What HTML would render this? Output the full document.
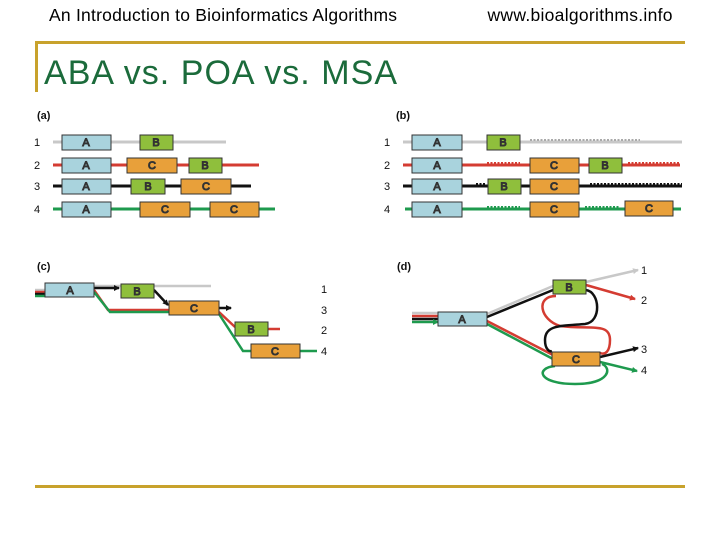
<!DOCTYPE html>
<html><head><meta charset="utf-8"><style>
html,body{margin:0;padding:0;background:#fff;}
svg{display:block;font-family:"Liberation Sans",sans-serif;}
</style></head><body>
<svg width="720" height="540" viewBox="0 0 720 540" xmlns="http://www.w3.org/2000/svg">
<defs>
<marker id="ak" markerWidth="6" markerHeight="6" refX="5" refY="3" orient="auto" markerUnits="userSpaceOnUse"><path d="M0,0 L6,3 L0,6 z" fill="#111"/></marker>
<marker id="ar" markerWidth="6" markerHeight="6" refX="5" refY="3" orient="auto" markerUnits="userSpaceOnUse"><path d="M0,0 L6,3 L0,6 z" fill="#d43c32"/></marker>
<marker id="ag" markerWidth="6" markerHeight="6" refX="5" refY="3" orient="auto" markerUnits="userSpaceOnUse"><path d="M0,0 L6,3 L0,6 z" fill="#1e9a4e"/></marker>
<marker id="ay" markerWidth="6" markerHeight="6" refX="5" refY="3" orient="auto" markerUnits="userSpaceOnUse"><path d="M0,0 L6,3 L0,6 z" fill="#c8c8c8"/></marker>
</defs>
<text x="223" y="21" font-size="17.5" text-anchor="middle" fill="#000" textLength="348">An Introduction to Bioinformatics Algorithms</text>
<text x="580" y="21" font-size="17.5" text-anchor="middle" fill="#000" textLength="185">www.bioalgorithms.info</text>
<rect x="35" y="41" width="650" height="3" fill="#c8a22c"/>
<rect x="35" y="41" width="3" height="51" fill="#c8a22c"/>
<rect x="35" y="485" width="650" height="3" fill="#c8a22c"/>
<text x="44" y="84" font-size="34" fill="#1b6b3b" textLength="353">ABA vs. POA vs. MSA</text>

<g font-size="11" fill="#111">
<text x="37" y="119" font-weight="bold">(a)</text>
<text x="396" y="119" font-weight="bold">(b)</text>
<text x="37" y="270" font-weight="bold">(c)</text>
<text x="397" y="270" font-weight="bold">(d)</text>
<text x="34" y="146">1</text><text x="34" y="169">2</text><text x="34" y="190">3</text><text x="34" y="213">4</text>
<text x="384" y="146">1</text><text x="384" y="169">2</text><text x="384" y="190">3</text><text x="384" y="213">4</text>
<text x="321" y="293">1</text><text x="321" y="314">3</text><text x="321" y="334">2</text><text x="321" y="355">4</text>
<text x="641" y="274">1</text><text x="641" y="304">2</text><text x="641" y="353">3</text><text x="641" y="374">4</text>
</g>

<g stroke-width="3">
<line x1="53" y1="142" x2="226" y2="142" stroke="#c8c8c8"/>
<line x1="53" y1="165" x2="259" y2="165" stroke="#d43c32"/>
<line x1="53" y1="186" x2="251" y2="186" stroke="#111"/>
<line x1="53" y1="209" x2="275" y2="209" stroke="#1e9a4e"/>
<line x1="403" y1="142" x2="682" y2="142" stroke="#c8c8c8"/>
<line x1="403" y1="165" x2="680" y2="165" stroke="#d43c32"/>
<line x1="403" y1="186" x2="682" y2="186" stroke="#111"/>
<line x1="405" y1="209" x2="681" y2="209" stroke="#1e9a4e"/>
</g>
<g stroke-width="2" stroke-dasharray="2,1.5">
<line x1="530" y1="140" x2="640" y2="140" stroke="#aaa"/>
<line x1="487" y1="163" x2="520" y2="163" stroke="#d43c32"/>
<line x1="628" y1="163" x2="680" y2="163" stroke="#d43c32"/>
<line x1="476" y1="184" x2="486" y2="184" stroke="#111"/>
<line x1="590" y1="184" x2="682" y2="184" stroke="#111"/>
<line x1="487" y1="207" x2="520" y2="207" stroke="#1e9a4e"/>
<line x1="585" y1="207" x2="620" y2="207" stroke="#1e9a4e"/>
</g>

<g fill="none" stroke-width="2.5">
<line x1="94" y1="286" x2="211" y2="286" stroke="#c8c8c8"/>
<line x1="35" y1="290" x2="45" y2="290" stroke="#c8c8c8"/>
<line x1="35" y1="292" x2="45" y2="292" stroke="#d43c32"/>
<line x1="35" y1="294" x2="45" y2="294" stroke="#111"/>
<line x1="35" y1="296" x2="45" y2="296" stroke="#1e9a4e"/>
<polyline points="94,290 108,310 169,310" stroke="#d43c32"/>
<polyline points="94,292 110,312 169,312" stroke="#1e9a4e"/>
<line x1="94" y1="288" x2="119" y2="288" stroke="#111" marker-end="url(#ak)"/>
<line x1="154" y1="290" x2="168" y2="305" stroke="#111" marker-end="url(#ak)"/>
<line x1="219" y1="308" x2="231" y2="308" stroke="#111" marker-end="url(#ak)"/>
<polyline points="219,312 235,327" stroke="#d43c32"/>
<polyline points="219,314 243,351 251,351" stroke="#1e9a4e"/>
<line x1="268" y1="329" x2="280" y2="329" stroke="#d43c32"/>
<line x1="300" y1="351" x2="317" y2="351" stroke="#1e9a4e"/>
</g>

<g fill="none" stroke-width="2.5">
<line x1="412" y1="313" x2="438" y2="313" stroke="#c8c8c8"/>
<line x1="412" y1="316" x2="438" y2="316" stroke="#d43c32"/>
<line x1="412" y1="319" x2="438" y2="319" stroke="#111"/>
<line x1="412" y1="322" x2="438" y2="322" stroke="#1e9a4e" marker-end="url(#ag)"/>
<line x1="487" y1="314" x2="553" y2="286" stroke="#c8c8c8"/>
<line x1="487" y1="317" x2="553" y2="290" stroke="#111"/>
<line x1="487" y1="321" x2="553" y2="355" stroke="#d43c32"/>
<line x1="487" y1="324" x2="553" y2="359" stroke="#1e9a4e"/>
<line x1="586" y1="282" x2="638" y2="270" stroke="#c8c8c8" marker-end="url(#ay)"/>
<line x1="586" y1="285" x2="635" y2="299" stroke="#d43c32" marker-end="url(#ar)"/>
<path d="M556,296 C535,296 540,320 560,326 C590,330 610,322 610,340 C610,352 605,355 600,353" stroke="#d43c32"/>
<path d="M586,290 C600,292 602,322 585,324 C560,326 545,325 545,340 C545,350 550,352 552,351" stroke="#111"/>
<line x1="600" y1="357" x2="638" y2="348" stroke="#111" marker-end="url(#ak)"/>
<line x1="600" y1="362" x2="637" y2="371" stroke="#1e9a4e" marker-end="url(#ag)"/>
<path d="M555,366 C535,368 538,384 575,384 C610,384 612,368 602,364" stroke="#1e9a4e"/>
</g>

<g stroke="#333" stroke-width="1" font-size="11" text-anchor="middle" fill="#222">
<rect x="62" y="135" width="49" height="15" fill="#a9d3dd"/><text x="86" y="146">A</text>
<rect x="140" y="135" width="33" height="15" fill="#8fbf3c"/><text x="156" y="146">B</text>
<rect x="62" y="158" width="49" height="15" fill="#a9d3dd"/><text x="86" y="169">A</text>
<rect x="127" y="158" width="50" height="15" fill="#e8a03a"/><text x="152" y="169">C</text>
<rect x="189" y="158" width="33" height="15" fill="#8fbf3c"/><text x="205" y="169">B</text>
<rect x="62" y="179" width="49" height="15" fill="#a9d3dd"/><text x="86" y="190">A</text>
<rect x="131" y="179" width="34" height="15" fill="#8fbf3c"/><text x="148" y="190">B</text>
<rect x="181" y="179" width="50" height="15" fill="#e8a03a"/><text x="206" y="190">C</text>
<rect x="62" y="202" width="49" height="15" fill="#a9d3dd"/><text x="86" y="213">A</text>
<rect x="140" y="202" width="50" height="15" fill="#e8a03a"/><text x="165" y="213">C</text>
<rect x="210" y="202" width="49" height="15" fill="#e8a03a"/><text x="234" y="213">C</text>
<rect x="412" y="135" width="50" height="15" fill="#a9d3dd"/><text x="437" y="146">A</text>
<rect x="487" y="135" width="33" height="15" fill="#8fbf3c"/><text x="503" y="146">B</text>
<rect x="412" y="158" width="50" height="15" fill="#a9d3dd"/><text x="437" y="169">A</text>
<rect x="530" y="158" width="49" height="15" fill="#e8a03a"/><text x="554" y="169">C</text>
<rect x="589" y="158" width="33" height="15" fill="#8fbf3c"/><text x="605" y="169">B</text>
<rect x="412" y="179" width="50" height="15" fill="#a9d3dd"/><text x="437" y="190">A</text>
<rect x="488" y="179" width="33" height="15" fill="#8fbf3c"/><text x="504" y="190">B</text>
<rect x="530" y="179" width="49" height="15" fill="#e8a03a"/><text x="554" y="190">C</text>
<rect x="412" y="202" width="50" height="15" fill="#a9d3dd"/><text x="437" y="213">A</text>
<rect x="530" y="202" width="49" height="15" fill="#e8a03a"/><text x="554" y="213">C</text>
<rect x="625" y="201" width="48" height="15" fill="#e8a03a"/><text x="649" y="212">C</text>
<rect x="45" y="283" width="49" height="14" fill="#a9d3dd"/><text x="70" y="294">A</text>
<rect x="121" y="284" width="33" height="14" fill="#8fbf3c"/><text x="137" y="295">B</text>
<rect x="169" y="301" width="50" height="14" fill="#e8a03a"/><text x="194" y="312">C</text>
<rect x="235" y="322" width="33" height="14" fill="#8fbf3c"/><text x="251" y="333">B</text>
<rect x="251" y="344" width="49" height="14" fill="#e8a03a"/><text x="275" y="355">C</text>
<rect x="438" y="312" width="49" height="14" fill="#a9d3dd"/><text x="462" y="323">A</text>
<rect x="553" y="280" width="33" height="14" fill="#8fbf3c"/><text x="569" y="291">B</text>
<rect x="552" y="352" width="48" height="14" fill="#e8a03a"/><text x="576" y="363">C</text>
</g>
</svg>
</body></html>
